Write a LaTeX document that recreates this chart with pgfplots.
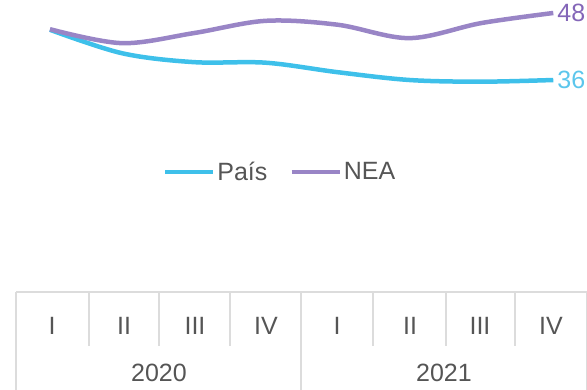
\documentclass[border=0pt]{standalone}
\usepackage{pgfplots}
\pgfplotsset{compat=1.18}
\usepackage{fontspec}
\setmainfont{Liberation Sans}
\definecolor{pais}{HTML}{3EC0EA}
\definecolor{nea}{HTML}{9985C6}
\definecolor{neatxt}{HTML}{8466B8}
\definecolor{paistxt}{HTML}{5CC6EC}
\definecolor{gridc}{HTML}{DCDCDC}
\definecolor{txt}{HTML}{555555}
\begin{document}
\begin{tikzpicture}
\begin{axis}[
  at={(0pt,0pt)}, anchor=south west,
  scale only axis, width=587pt, height=390pt,
  xmin=-0.695, xmax=7.469, ymin=-19.52, ymax=50.33,
  hide axis, clip=false,
  legend columns=2,
  legend style={draw=none, fill=none, at={(axis cs:3.2,19.52)}, anchor=center,
    font=\fontsize{25}{28}\selectfont\color{txt},
    nodes={inner xsep=2pt},
    /tikz/every even column/.append style={column sep=20pt},
    inner sep=0pt, row sep=0pt},
  legend image code/.code={\draw[#1] (0pt,0pt) -- (48pt,0pt);},
]
\addplot[pais, line width=4.5pt, smooth, tension=0.55] coordinates {
  (0,45.0) (1,40.8) (2,39.2) (3,39.1) (4,37.4) (5,36.0) (6,35.7) (7,36.0)};
\addlegendentry{País}
\addplot[nea, line width=4.5pt, smooth, tension=0.55] coordinates {
  (0,45.1) (1,42.6) (2,44.4) (3,46.6) (4,45.9) (5,43.5) (6,46.2) (7,48.0)};
\addlegendentry{NEA}
\node[anchor=west, text=neatxt, font=\fontsize{25}{28}\selectfont, inner sep=0pt, xshift=4pt] at (axis cs:7,48) {48};
\node[anchor=west, text=paistxt, font=\fontsize{25}{28}\selectfont, inner sep=0pt, xshift=4pt] at (axis cs:7,36) {36};
\end{axis}
% table of categories (px coordinates: x, 390-y)
\begin{scope}[gridc, line width=1.5pt]
\draw (16pt,98pt) -- (586.5pt,98pt);
\draw (16pt,98pt) -- (16pt,0pt);
\draw (586.5pt,98pt) -- (586.5pt,0pt);
\draw (301pt,98pt) -- (301pt,0pt);
\foreach \x in {89,159,230,373,446,515} {\draw (\x pt,98pt) -- (\x pt,44pt);}
\end{scope}
\begin{scope}[every node/.style={text=txt, font=\fontsize{25}{28}\selectfont, inner sep=0pt}]
\node at (52pt,64pt) {I};
\node at (124pt,64pt) {II};
\node at (195pt,64pt) {III};
\node at (266pt,64pt) {IV};
\node at (337pt,64pt) {I};
\node at (410pt,64pt) {II};
\node at (480pt,64pt) {III};
\node at (551pt,64pt) {IV};
\node at (159pt,17pt) {2020};
\node at (444pt,17pt) {2021};
\end{scope}
\pgfresetboundingbox
\useasboundingbox (0pt,0pt) rectangle (587pt,390pt);
\end{tikzpicture}
\end{document}
